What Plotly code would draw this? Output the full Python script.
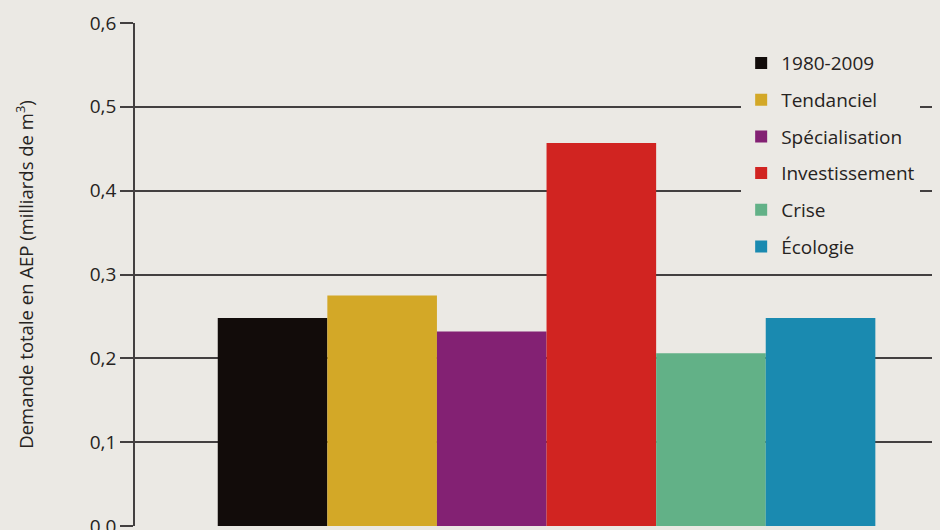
import plotly.graph_objects as go

scenarios = ["1980-2009", "Tendanciel", "Spécialisation", "Investissement", "Crise", "Écologie"]
values = [0.248, 0.275, 0.232, 0.457, 0.206, 0.248]
colors = ["#120c0a", "#d3a827", "#832173", "#d12421", "#62b187", "#1a8ab0"]
y_ticks = [0.0, 0.1, 0.2, 0.3, 0.4, 0.5, 0.6]
y_tick_text = ["0,0", "0,1", "0,2", "0,3", "0,4", "0,5", "0,6"]

BG = "#ebe9e4"
INK = "#262321"
LINE = "#434040"
FONT = "Open Sans"

fig = go.Figure()
for i, (name, v, c) in enumerate(zip(scenarios, values, colors)):
    fig.add_trace(go.Bar(
        x=[i], y=[v], name=name, width=1.0,
        marker=dict(color=c, line=dict(width=0)),
        legendgroup=name,
    ))

fig.update_layout(
    width=940, height=530,
    paper_bgcolor=BG, plot_bgcolor=BG,
    margin=dict(l=127, r=8, t=15, b=12),
    barmode="overlay",
    showlegend=True,
    font=dict(family=FONT, color=INK, size=19),
    legend=dict(
        x=0.753, y=0.958, xanchor="left", yanchor="top",
        bgcolor=BG, borderwidth=0,
        font=dict(family=FONT, size=19, color=INK),
        traceorder="grouped", tracegroupgap=9,
        itemwidth=30,
    ),
    xaxis=dict(
        range=[-1.255, 6.09], showgrid=False, zeroline=False,
        showticklabels=False, ticks="", showline=False,
    ),
    yaxis=dict(
        range=[0, 0.6], tickvals=y_ticks, ticktext=y_tick_text,
        showgrid=True, gridcolor=LINE, gridwidth=1.6,
        zeroline=False, showline=True, linecolor=LINE, linewidth=1.6,
        ticks="outside", ticklen=13, tickwidth=1.6, tickcolor=LINE,
        tickfont=dict(family=FONT, size=19, color=INK),
        ticklabeloverflow="allow",
        title=dict(text="Demande totale en AEP (milliards de m<sup>3</sup>)",
                   font=dict(family=FONT, size=18.5, color=INK), standoff=51),
        automargin=False,
    ),
)

fig.write_html(
    "out.html",
    post_script="document.body.style.background='%s';" % BG,
)
